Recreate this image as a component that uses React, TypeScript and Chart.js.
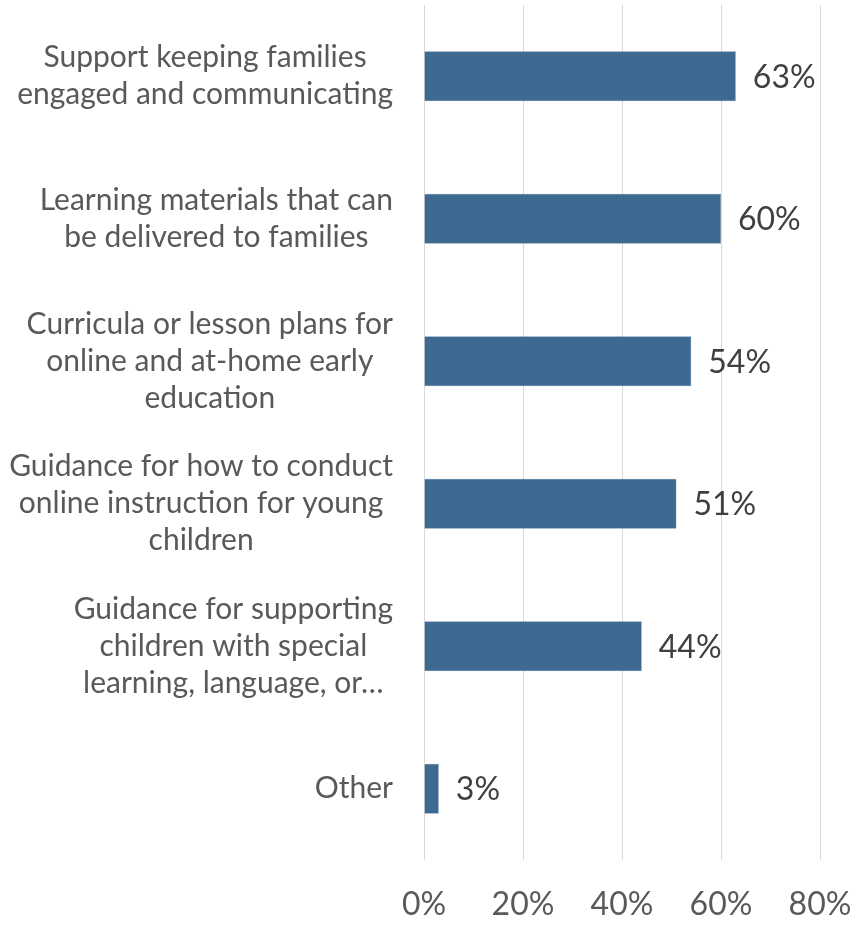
import React, { useEffect, useRef } from "react";
import { Chart, registerables } from "chart.js";

Chart.register(...registerables);

const categories: string[][] = [
  ["Support keeping families", "engaged and communicating"],
  ["Learning materials that can", "be delivered to families"],
  ["Curricula or lesson plans for", "online and at-home early", "education"],
  ["Guidance for how to conduct", "online instruction for young", "children"],
  ["Guidance for supporting", "children with special", "learning, language, or…"],
  ["Other"],
];
const values: number[] = [63, 60, 54, 51, 44, 3];
const xTickValues: number[] = [0, 20, 40, 60, 80];
const valueLabels: string[] = values.map((v) => `${v}%`);

const FONT = "Lato, 'Open Sans', sans-serif";

export default function App() {
  const ref = useRef<HTMLCanvasElement>(null);

  useEffect(() => {
    document.body.style.margin = "0";
    const canvas = ref.current;
    if (!canvas) return;

    const labelPlugin = {
      id: "customLabels",
      afterDraw(chart: any) {
        const ctx = chart.ctx as CanvasRenderingContext2D;
        const yScale = chart.scales.y;
        const left = chart.chartArea.left;
        ctx.save();
        // category labels
        ctx.font = `30px ${FONT}`;
        ctx.fillStyle = "#595959";
        ctx.textAlign = "center";
        ctx.textBaseline = "middle";
        const lh = 37;
        categories.forEach((lines, i) => {
          const cy = yScale.getPixelForValue(i);
          const maxW = Math.max(...lines.map((l) => ctx.measureText(l).width));
          const cx = left - 31 - maxW / 2;
          lines.forEach((l, j) => {
            ctx.fillText(l, cx, cy + (j - (lines.length - 1) / 2) * lh);
          });
        });
        // value labels
        const meta = chart.getDatasetMeta(0);
        ctx.font = `32px ${FONT}`;
        ctx.fillStyle = "#404040";
        ctx.textAlign = "left";
        ctx.textBaseline = "middle";
        meta.data.forEach((bar: any, i: number) => {
          ctx.fillText(valueLabels[i], bar.x + 17, bar.y + 1);
        });
        ctx.restore();
      },
    };

    const chart = new Chart(canvas, {
      type: "bar",
      data: {
        labels: categories,
        datasets: [
          {
            data: values,
            backgroundColor: "#3E6A91",
            borderColor: "#6F90AE",
            borderWidth: 0.5,
            barPercentage: 0.35,
            categoryPercentage: 1,
          },
        ],
      },
      options: {
        indexAxis: "y",
        responsive: false,
        animation: false,
        devicePixelRatio: 1,
        layout: { padding: { top: 5, right: 39, left: 0, bottom: 0 } },
        plugins: {
          legend: { display: false },
          tooltip: { enabled: false },
          title: { display: false },
        },
        scales: {
          x: {
            min: 0,
            max: 80,
            afterBuildTicks(scale: any) {
              scale.ticks = xTickValues.map((v) => ({ value: v }));
            },
            afterFit(scale: any) {
              scale.height = 65;
              scale.paddingLeft = 0;
              scale.paddingRight = 0;
            },
            grid: {
              color: "#D9D9D9",
              lineWidth: 1,
              drawTicks: false,
            },
            border: { display: false },
            ticks: {
              callback: (v: any) => `${v}%`,
              color: "#595959",
              font: { family: FONT, size: 32 },
              padding: 25,
              maxRotation: 0,
            },
          },
          y: {
            afterFit(scale: any) {
              scale.width = 424;
            },
            grid: { display: false },
            border: { display: false },
            ticks: { display: false },
          },
        },
      },
      plugins: [labelPlugin],
    });

    return () => chart.destroy();
  }, []);

  return <canvas ref={ref} width={859} height={925} style={{ display: "block" }} />;
}
